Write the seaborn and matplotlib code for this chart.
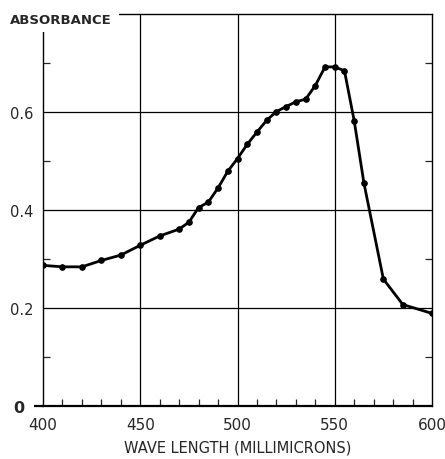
import matplotlib
matplotlib.use("Agg")
import matplotlib.pyplot as plt
import matplotlib.transforms as mtrans
import seaborn as sns
import pandas as pd
from matplotlib.ticker import FixedLocator

wavelength = [400, 410, 420, 430, 440, 450, 460, 470, 475, 480, 485, 490, 495, 500,
              505, 510, 515, 520, 525, 530, 535, 540, 545, 550, 555, 560, 565, 575,
              585, 600]
absorbance = [0.287, 0.284, 0.284, 0.297, 0.308, 0.328, 0.347, 0.361, 0.375, 0.405,
              0.416, 0.445, 0.479, 0.505, 0.534, 0.559, 0.583, 0.601, 0.611, 0.621,
              0.626, 0.654, 0.692, 0.692, 0.684, 0.582, 0.455, 0.259, 0.207, 0.189]
x_ticks = [400, 450, 500, 550, 600]
y_ticks = [0, 0.2, 0.4, 0.6]
y_tick_labels = ["0", "0.2", "0.4", "0.6"]

sns.set_style("white")
plt.rcParams['font.family'] = ['DejaVu Sans']

df = pd.DataFrame({"wl": wavelength, "abs": absorbance})

fig = plt.figure(figsize=(4.45, 4.6), dpi=100)
ax = fig.add_axes([43/445, 1-407/460, (432-43)/445, (407-15)/460])

for v in [450, 500, 550]:
    ax.axvline(v, color="black", lw=0.9, zorder=1)
for v in [0.2, 0.4, 0.6]:
    ax.axhline(v, color="black", lw=0.9, zorder=1)

sns.lineplot(data=df, x="wl", y="abs", ax=ax, color="black", linewidth=2.0,
             marker="o", markersize=4, markeredgecolor="black", zorder=3)

ax.set_xlim(400, 600)
ax.set_ylim(0, 0.8)
ax.set_xticks(x_ticks)
ax.set_xticklabels([str(t) for t in x_ticks])
ax.set_yticks(y_ticks)
ax.set_yticklabels(y_tick_labels)
ax.xaxis.set_minor_locator(FixedLocator([t for t in range(410, 600, 10) if t % 50 != 0]))
ax.yaxis.set_minor_locator(FixedLocator([0.1, 0.3, 0.5, 0.7]))

ax.tick_params(axis="x", which="major", length=0, pad=8, labelsize=11)
ax.tick_params(axis="x", which="minor", direction="in", length=5, width=0.9,
               bottom=True, top=False)
ax.tick_params(axis="y", which="major", direction="out", length=0, pad=7, labelsize=10.5)
ax.tick_params(axis="y", which="minor", direction="in", length=5, width=0.9,
               left=True, right=True)
zero_tick = ax.yaxis.get_major_ticks()[0]
zero_tick.label1.set_fontweight("bold")
zero_tick.label1.set_fontsize(11.5)
zero_tick.label1.set_transform(zero_tick.label1.get_transform() +
                               mtrans.ScaledTranslation(-9/100, 0, fig.dpi_scale_trans))
# short outward tick beside the bold zero label
ax.plot([-0.024, 0], [0, 0], transform=ax.get_yaxis_transform(), clip_on=False,
        color="black", lw=1.6, solid_capstyle="butt", zorder=5)

for side, sp in ax.spines.items():
    sp.set_visible(True)
    sp.set_color("black")
    sp.set_linewidth(1.0)
ax.spines["bottom"].set_linewidth(1.6)

ax.set_xlabel("WAVE LENGTH (MILLIMICRONS)", fontsize=10.5, labelpad=5)
ax.set_ylabel("")

fig.text(10/445, 1-20/460, "ABSORBANCE", fontsize=9.5, fontweight="bold",
         ha="left", va="center", zorder=10,
         bbox=dict(facecolor="white", edgecolor="none", pad=5))

fig.savefig("out.png", dpi=100)
